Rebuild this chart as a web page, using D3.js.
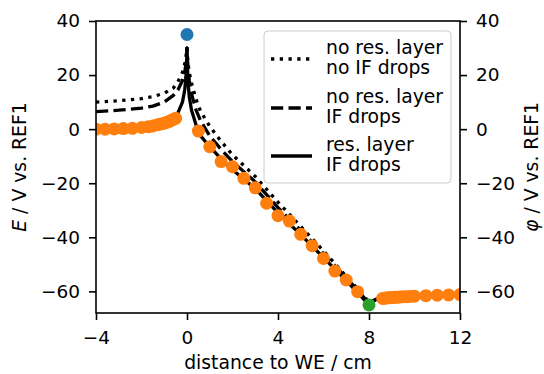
<!DOCTYPE html>
<html><head><meta charset="utf-8">
<script src="https://cdn.jsdelivr.net/npm/d3@7"></script>
<style>body{margin:0;background:#fff}svg{display:block}</style></head>
<body><svg id="c" width="544" height="374"></svg>
<script>
const xTicks=[-4,0,4,8,12];
const yTicks=[-60,-40,-20,0,20,40];
const lineX=[-4,-3,-2,-1.5,-1,-0.6,-0.4,-0.2,-0.1,-0.05,-0.02,0,0.02,0.05,0.1,0.2,0.4,0.6,1,1.5,2,3,4,5,6,7,7.5,8,8.3,8.6,10,12];
const noResNoIF=[10,10.5,11.3,12,13.3,15.2,17.5,21,24,26.5,28.5,30,27,24,21,17,11,6.5,1,-4.5,-9.5,-17.5,-27,-36,-45,-54.5,-59,-64,-63,-62.6,-61.8,-61.2];
const noResIF=[6.5,7,7.8,8.5,10,12.5,14.5,18,21,24,27,30,26,22,18,13,7,3,-2.5,-7.5,-12,-19.5,-29,-37.5,-46,-55,-59.5,-64.5,-63,-62.6,-61.8,-61.2];
const resIF=[0,0.3,0.8,1.3,2.2,3.8,6,10,14.5,19,24,30,23,17,12,7,1.5,-2.5,-6.5,-11,-15,-22,-31,-39,-47.5,-56,-60.5,-65,-63,-62.6,-61.8,-61.2];
const measX=[-4,-3.6,-3.2,-2.8,-2.4,-2.0,-1.7,-1.5,-1.3,-1.15,-1.0,-0.9,-0.8,-0.7,-0.6,-0.5,
  0.5,1.0,1.5,2.0,2.5,3.0,3.5,4.0,4.5,5.0,5.5,6.0,6.5,7.0,7.5,
  8.6,8.7,8.8,8.9,9.0,9.1,9.2,9.35,9.5,9.65,9.8,10.0,10.5,11.0,11.5,12.0];
const measY=[0,0,0.1,0.2,0.3,0.6,0.9,1.2,1.6,1.9,2.2,2.5,2.8,3.2,3.6,4.0,
  -0.7,-6.5,-12.0,-13.9,-18.2,-21.7,-27.4,-32.0,-34.0,-38.9,-43.1,-47.8,-52.5,-55.8,-60.1,
  -62.6,-62.5,-62.4,-62.4,-62.3,-62.2,-62.2,-62.1,-62.0,-62.0,-61.9,-61.8,-61.6,-61.4,-61.3,-61.2];
const weX=[0], weY=[35];
const ceX=[8], ceY=[-65];
const legendLabels=[["no res. layer","no IF drops"],["no res. layer","IF drops"],["res. layer","IF drops"]];

const svg=d3.select("#c");
const F="'DejaVu Sans', sans-serif";
const x=d3.scaleLinear().domain([-4,12]).range([96,460]);
const y=d3.scaleLinear().domain([-68,40]).range([313,21]);
svg.append("defs").append("clipPath").attr("id","clip").append("rect")
  .attr("x",96).attr("y",21).attr("width",364).attr("height",292);
const plot=svg.append("g").attr("clip-path","url(#clip)");
const lw=3.3;
const styles=[{d:noResNoIF,dash:`${lw},${lw*1.65}`},{d:noResIF,dash:`${lw*3.7},${lw*1.6}`},{d:resIF,dash:null}];
const line=d3.line().x(d=>x(d[0])).y(d=>y(d[1]));
styles.forEach(s=>{
  plot.append("path").datum(lineX.map((v,i)=>[v,s.d[i]])).attr("d",line)
   .attr("fill","none").attr("stroke","#000").attr("stroke-width",lw)
   .attr("stroke-dasharray",s.dash).attr("stroke-linejoin","round");
});
plot.selectAll(".m").data(measX.map((v,i)=>[v,measY[i]])).enter().append("circle")
  .attr("cx",d=>x(d[0])).attr("cy",d=>y(d[1])).attr("r",6.5).attr("fill","#ff7f0e");
plot.selectAll(".we").data(weX.map((v,i)=>[v,weY[i]])).enter().append("circle")
  .attr("cx",d=>x(d[0])).attr("cy",d=>y(d[1])).attr("r",6.5).attr("fill","#1f77b4");
plot.selectAll(".ce").data(ceX.map((v,i)=>[v,ceY[i]])).enter().append("circle")
  .attr("cx",d=>x(d[0])).attr("cy",d=>y(d[1])).attr("r",6.5).attr("fill","#2ca02c");

const fs=18.5, fl=18.8;
function styleAxis(g){
  g.selectAll("path.domain").remove();
  g.selectAll(".tick line").attr("stroke","#000").attr("stroke-width",1.6);
  g.selectAll(".tick text").attr("font-family",F).attr("font-size",fs).attr("fill","#000");
}
const fmt=d=>d<0?"\u2212"+Math.abs(d):String(d);
svg.append("g").attr("transform","translate(0,313)")
  .call(d3.axisBottom(x).tickValues(xTicks).tickFormat(fmt).tickSize(7).tickPadding(11)).call(styleAxis);
svg.append("g").attr("transform","translate(96,0)")
  .call(d3.axisLeft(y).tickValues(yTicks).tickFormat(fmt).tickSize(7).tickPadding(9)).call(styleAxis);
svg.append("g").attr("transform","translate(460,0)")
  .call(d3.axisRight(y).tickValues(yTicks).tickFormat(fmt).tickSize(7).tickPadding(9)).call(styleAxis);
svg.append("rect").attr("x",96).attr("y",21).attr("width",364).attr("height",292)
  .attr("fill","none").attr("stroke","#000").attr("stroke-width",1.6);

// legend
const lg=svg.append("g");
lg.append("rect").attr("x",264).attr("y",31).attr("width",187).attr("height",152).attr("rx",4)
  .attr("fill","#fff").attr("fill-opacity",0.8).attr("stroke","#ccc").attr("stroke-width",1);
const rowY=[59,108,156];
styles.forEach((s,i)=>{
  lg.append("line").attr("x1",271).attr("x2",312).attr("y1",rowY[i]).attr("y2",rowY[i])
    .attr("stroke","#000").attr("stroke-width",lw).attr("stroke-dasharray",s.dash);
  const t=lg.append("text").attr("font-family",F).attr("font-size",fl).attr("x",326);
  t.append("tspan").attr("x",326).attr("y",rowY[i]-5).text(legendLabels[i][0]);
  t.append("tspan").attr("x",326).attr("y",rowY[i]+15).text(legendLabels[i][1]);
});

// axis labels
svg.append("text").attr("x",278).attr("y",369).attr("text-anchor","middle")
  .attr("font-family",F).attr("font-size",fl).text("distance to WE / cm");
const yl=svg.append("text").attr("transform","translate(26,167) rotate(-90)").attr("text-anchor","middle")
  .attr("font-family",F).attr("font-size",fl);
yl.append("tspan").attr("font-style","italic").text("E");
yl.append("tspan").text(" / V vs. REF1");
const yr=svg.append("text").attr("transform","translate(538,167) rotate(-90)").attr("text-anchor","middle")
  .attr("font-family",F).attr("font-size",fl);
yr.append("tspan").attr("font-style","italic").text("\u03C6");
yr.append("tspan").text(" / V vs. REF1");
</script></body></html>
